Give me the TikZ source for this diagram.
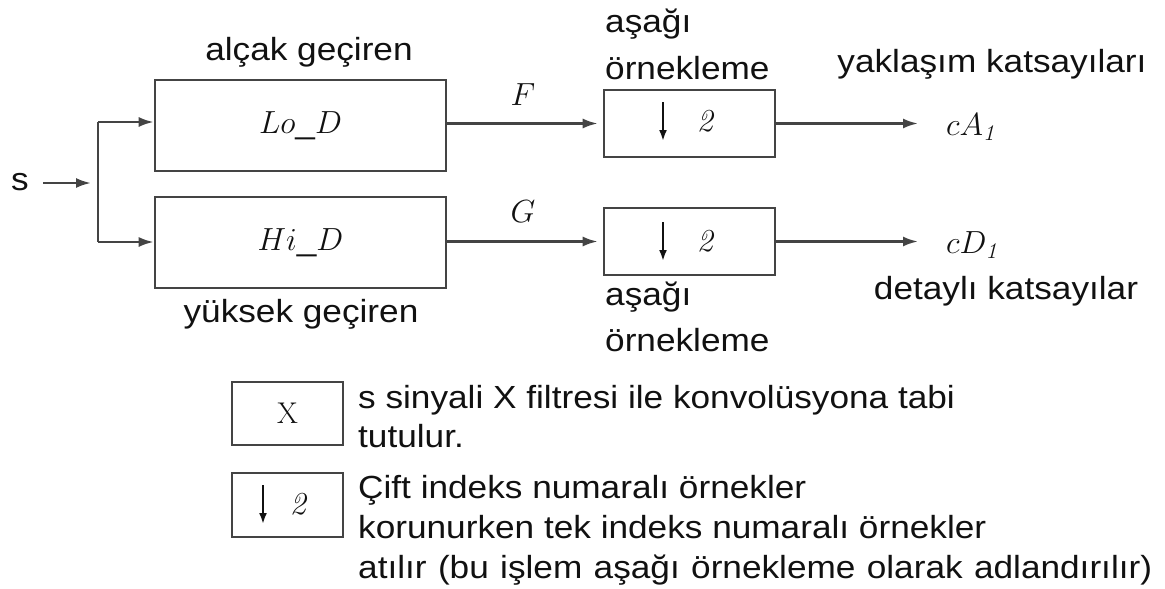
\RequirePackage{fix-cm}
\documentclass[tikz,border=0pt]{standalone}
\usepackage[no-math]{fontspec}
\setmainfont{Liberation Sans}[FakeStretch=1.1]
\usetikzlibrary{arrows.meta}
\definecolor{ink}{HTML}{111111}
\definecolor{edge}{HTML}{444444}
\begin{document}
\begin{tikzpicture}[x=1pt,y=-1pt,
  txt/.style={inner sep=0pt, text=ink, font=\fontsize{32}{38}\selectfont},
  mth/.style={inner sep=0pt, text=ink, font=\fontsize{32}{36}\selectfont},
  blk/.style={draw=edge, line width=2.6pt, inner sep=0pt, text=ink, font=\fontsize{32}{36}\selectfont},
  conn/.style={draw=edge, line width=2.4pt, -{Latex[length=15pt,width=10pt]}},
  wire/.style={draw=edge, line width=2.4pt},
  darr/.style={draw=ink, line width=2.2pt, -{Latex[length=11pt,width=8pt]}}
]
\useasboundingbox (0,0) rectangle (1165,589);
% blocks
\node[blk, minimum width=291pt, minimum height=91pt] (lo) at (300.5,125.5) {\raisebox{-4pt}{$Lo\_D$}};
\node[blk, minimum width=291pt, minimum height=91pt] (hi) at (300.5,242.5) {$Hi\_D$};
\node[blk, minimum width=171pt, minimum height=67pt] (dA) at (689.5,123.5) {};
\node[blk, minimum width=171pt, minimum height=67pt] (dD) at (689.5,241.5) {};
\node[mth] (twoA) at (707,121) {$\mathit{2}$};
\node[mth] (twoD) at (707,241) {$\mathit{2}$};
\draw[darr] (663,102) -- (663,141);
\draw[darr] (663,222) -- (663,261);
% input
\node[txt, anchor=west] (s) at (11,182) {s};
\coordinate (sarr) at (91,183);
\coordinate (bt) at (98,122);
\coordinate (bb) at (98,242);
\draw[conn] ([xshift=14pt]s.east |- sarr) -- (sarr);
\draw[wire] (bt) -- (bb);
\draw[conn] (bt) -- (bt -| lo.west);
\draw[conn] (bb) -- (bb -| hi.west);
% middle connectors
\draw[conn, shorten >=5pt] (lo.east |- dA.west) -- (dA.west);
\draw[conn, shorten >=5pt] (hi.east |- dD.west) -- (dD.west);
\node[mth] (F) at (523,95) {$F$};
\node[mth] (G) at (523,212) {$G$};
% outputs
\node[mth, anchor=west] (cA) at (946,127) {$cA_{\mathit{1}}$};
\node[mth, anchor=west] (cD) at (946,245) {$cD_{\mathit{1}}$};
\draw[conn, shorten >=28pt] (dA.east) -- (dA.east -| cA.west);
\draw[conn, shorten >=28pt] (dD.east) -- (dD.east -| cD.west);
% labels
\node[txt] (lp) at (309,52) {alçak geçiren};
\node[txt] (hp) at (301,314) {yüksek geçiren};
\node[txt, anchor=west] (a1) at (605,24) {aşağı};
\node[txt, anchor=west] (o1) at (605,68) {örnekleme};
\node[txt, anchor=west] (a2) at (605,297) {aşağı};
\node[txt, anchor=west] (o2) at (605,340) {örnekleme};
\node[txt] (yk) at (992,64) {yaklaşım katsayıları};
\node[txt] (dk) at (1006,291) {detaylı katsayılar};
% legend
\node[blk, minimum width=111pt, minimum height=63pt, font=\fontsize{30}{36}\selectfont] (lx) at (287.5,413.5) {$\mathrm{X}$};
\node[blk, minimum width=111pt, minimum height=64pt] (l2) at (287.5,505) {};
\node[mth] (l2t) at (300,504) {$\mathit{2}$};
\draw[darr] (263,485) -- (263,524);
\node[txt, anchor=base west] (t1) at (358,408) {s sinyali X filtresi ile konvolüsyona tabi};
\node[txt, anchor=base west] (t2) at (358,447) {tutulur.};
\node[txt, anchor=base west] (t3) at (358,498) {Çift indeks numaralı örnekler};
\node[txt, anchor=base west] (t4) at (358,538) {korunurken tek indeks numaralı örnekler};
\node[txt, anchor=base west] (t5) at (358,578) {\makebox[794pt][s]{atılır (bu işlem aşağı örnekleme olarak adlandırılır)}};
\end{tikzpicture}
\end{document}
